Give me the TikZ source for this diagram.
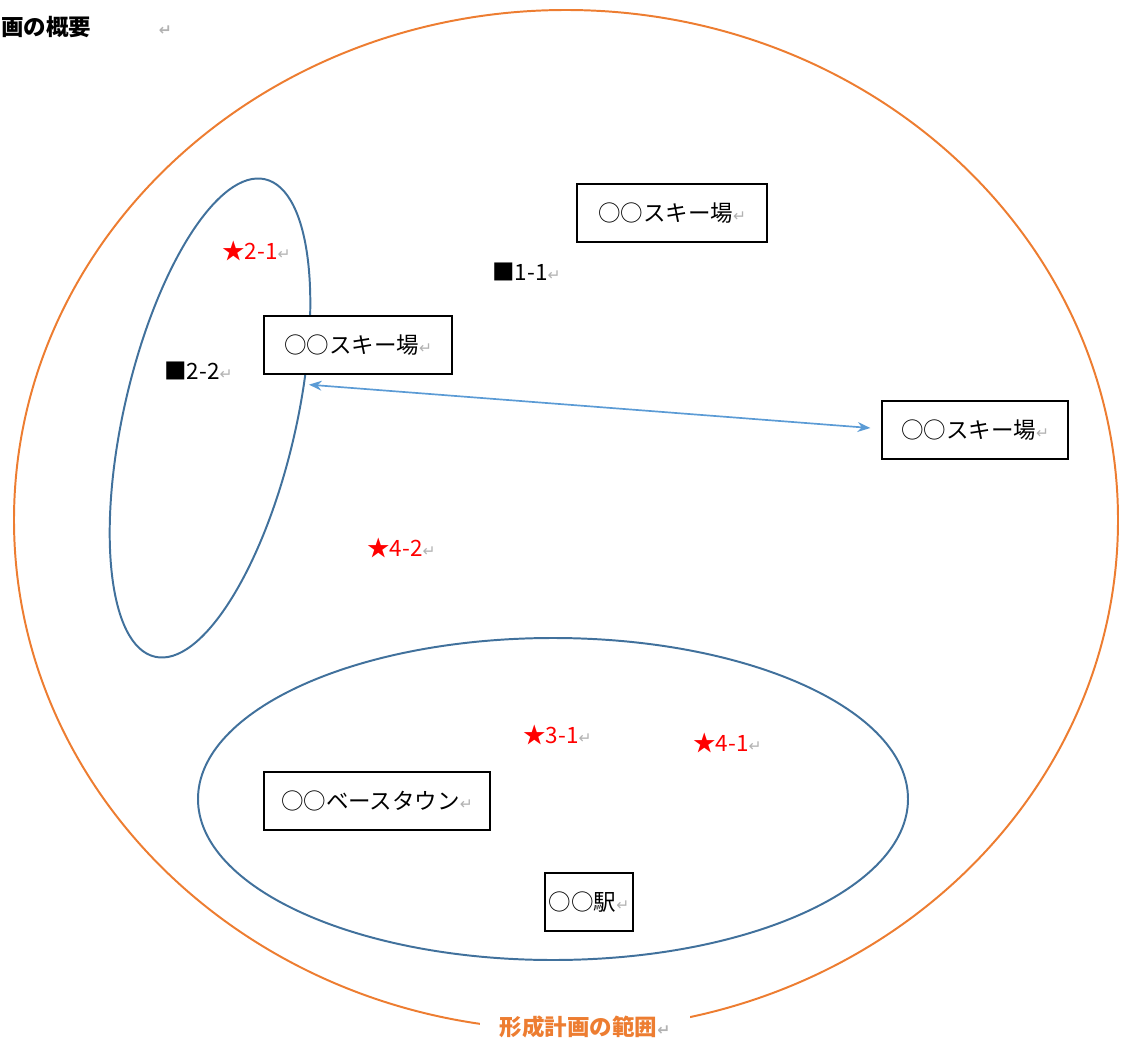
\documentclass[tikz,border=0pt]{standalone}
\usepackage{fontspec}
\setmainfont{Noto Sans CJK JP}
\newfontfamily\markfont{DejaVu Sans}
\usetikzlibrary{arrows.meta}
\usepackage{xcolor}
\definecolor{rangeorange}{HTML}{ED7D31}
\definecolor{areablue}{HTML}{41719C}
\definecolor{linkblue}{HTML}{5B9BD5}
% 段落記号
\newcommand{\kaigyo}{{\color{gray!60}\fontsize{11}{13}\selectfont\markfont ↵}}

\begin{document}
\begin{tikzpicture}[x=0.025cm, y=0.025cm]
        % ================= スタイル定義 =================
        \tikzset{
            % 施設 (枠付き)
            place/.style={draw=black, line width=1.2pt, fill=white, align=center, minimum height=41pt, inner sep=2pt, font=\fontsize{16}{19}\selectfont},
            % 地点番号
            spot/.style={anchor=west, inner sep=0pt, font=\fontsize{16}{19}\selectfont},
            redspot/.style={spot, text=red},
            % エリア (青い楕円)
            area/.style={draw=areablue, line width=1.4pt},
            % 形成計画の範囲
            rangeline/.style={draw=rangeorange, line width=1.4pt},
            % 連携の矢印
            link/.style={{Stealth[length=9pt,width=7pt]}-{Stealth[length=9pt,width=7pt]}, draw=linkblue, line width=1.2pt}
        }
        \useasboundingbox (0,0) rectangle (1124,-1050);

        % ================= 見出し =================
        \node[anchor=west, inner sep=0pt, font=\fontsize{16}{19}\selectfont\bfseries] (title) at (1,-27) {画の概要\hspace{48pt}\kaigyo};

        % ================= 範囲とエリア =================
        \draw[rangeline] (566,-520) ellipse [x radius=552, y radius=510];
        \draw[area, rotate around={77:(210,-418)}] (210,-418) ellipse [x radius=245, y radius=86];
        \draw[area] (553,-799) ellipse [x radius=355, y radius=161];

        \node[fill=white, inner xsep=14pt, inner ysep=2pt, text=rangeorange, font=\fontsize{16}{19}\selectfont\bfseries] (rangelabel) at (585,-1027) {形成計画の範囲\kaigyo};

        % ================= 施設 =================
        \node[place, minimum width=135pt] (skiT) at (672,-213) {○○スキー場\kaigyo};
        \node[place, minimum width=134pt] (skiL) at (358,-345) {○○スキー場\kaigyo};
        \node[place, minimum width=132pt] (skiR) at (975,-430) {○○スキー場\kaigyo};
        \node[place, minimum width=161pt] (town) at (377,-801) {○○ベースタウン\kaigyo};
        \node[place, minimum width=63pt] (station) at (589,-902) {○○駅\kaigyo};

        % ================= 地点 =================
        \node[redspot] (p21) at (222,-251) {★2-1\kaigyo};
        \node[spot] (p22) at (164,-371) {■2-2\kaigyo};
        \node[spot] (p11) at (492,-272) {■1-1\kaigyo};
        \node[redspot] (p42) at (367,-548) {★4-2\kaigyo};
        \node[redspot] (p31) at (523,-735) {★3-1\kaigyo};
        \node[redspot] (p41) at (693,-743) {★4-1\kaigyo};

        % スキー場どうしの連携
        \coordinate (linkS) at ([shift={(46,-10)}]skiL.south west);
        \coordinate (linkE) at ([shift={(-11,2)}]skiR.west);
        \draw[link] (linkS) -- (linkE);

    \end{tikzpicture}
\end{document}
